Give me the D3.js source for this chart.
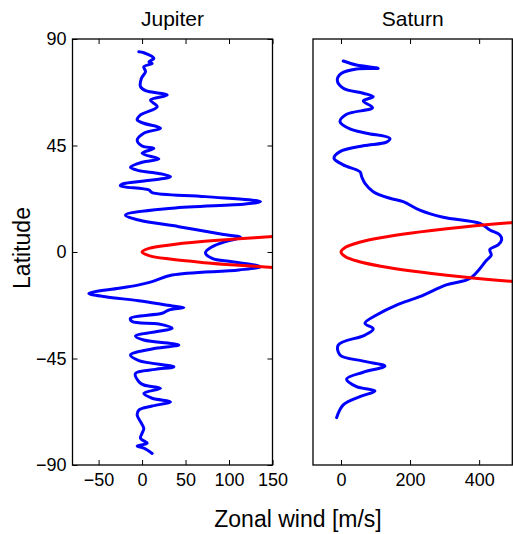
<!DOCTYPE html>
<html><head><meta charset="utf-8">
<script src="https://cdn.jsdelivr.net/npm/d3@7"></script>
<style>
body{margin:0;background:#fff}
text{font-family:"Liberation Sans",Arial,Helvetica,sans-serif;fill:#000}
</style>
</head><body>
<svg id="c" width="513" height="534"></svg>
<script>
// ---- data ----
const latTicks = [90, 45, 0, -45, -90];
const jupTicks = [-50, 0, 50, 100, 150];
const satTicks = [0, 200, 400];
const panelTitles = ["Jupiter", "Saturn"];

const jupLat = [84.6,84.2,81.8,80.4,79.7,78.3,76.2,73.4,69.9,68.2,66.3,64.2,61.4,57.9,55.8,54.4,52.3,50.2,47.3,44.8,43.8,41.7,39.3,37.9,35.8,34.4,33.2,31.8,30.4,28.7,28.0,26.2,25.1,23.4,21.3,20.3,18.5,15.6,13.5,10.7,7.5,6.2,4.4,2.2,-0.3,-2.7,-4.1,-6.2,-7.6,-9.7,-12.5,-13.9,-15.3,-17.5,-18.9,-20.6,-22.8,-23.5,-24.5,-25.9,-28.0,-29.4,-30.4,-32.2,-35.5,-37.2,-39.3,-40.7,-43.5,-45.9,-48.5,-49.6,-51.3,-54.8,-56.2,-57.6,-59.7,-61.8,-63.3,-65.1,-66.8,-68.9,-71.7,-74.5,-76.6,-78.7,-80.8,-82.0,-82.9,-85.1];
const jupU   = [-3.7,2,13.6,7.8,11.6,2,4,-0.7,-1.8,4,28.9,9.7,17.4,-1.8,-5.6,2,21.2,2,-5.6,0,13.6,0,19.3,0,-13.3,-3.7,19.3,32.7,11.6,-22.9,-25,7.8,11.6,72.9,136.2,118.9,34.6,-19.1,-3.7,42.3,92.1,113.2,95.9,80.6,72.9,80.6,103.6,136.2,111.3,34.6,11.6,-3.7,-26.7,-61.2,-42.1,-3.7,34.6,48.1,30.8,23.1,-13.3,-11.4,19.3,34.6,-7.6,2,42.3,15.4,-13.3,-3.7,36.6,15.4,-7.6,-3.7,2,21.2,2,11.6,32.7,11.6,-3.7,-5.6,-1.8,2,0,-1.8,5.9,-5.6,2,11.6];

const satLat = [80.7,79,77.6,77.3,75.5,72.7,69.2,67.1,65.6,63.8,61,58.2,55.1,52,50.2,48,46.4,44.9,42.4,39.6,36.8,33.9,31.8,29,25.5,22.7,21.3,17.7,14.7,12.1,9.3,7.2,5.1,3,1.1,-1.3,-3.4,-11.1,-13.9,-18.9,-22.4,-26.6,-30.1,-32.5,-35.1,-39.3,-43.5,-46.1,-48.2,-50.8,-53.7,-56.9,-58.7,-61.1,-64.6,-70];
const satU   = [6.6,45,107.8,45,1.7,-10.7,6.6,64.5,93.4,64.5,91.3,16.2,-2.9,26,74,141.6,131.8,64.5,-2.9,-20.2,6.6,54.9,60,69.4,93.4,141.6,180,228,295.7,402.6,431,460,465,455,431,435,422,374,305,228,160.7,102.9,69.4,93.4,69.4,-7.8,-2.9,64.5,127.2,64.5,16.2,45,98.3,54.9,6.6,-12.7];

const jupRedLat = [-7.2,-6.6,-5.5,-4.5,-3,-1.5,0,1.5,3,4.5,5.5,6.6,7.2];
const jupRedU   = [184,155,107,72,32,8,0,8,32,72,107,155,184];
const satRedLat = [-13.5,-12,-10,-8,-6,-4,-2,0,2,4,6,8,10,12,13.5];
const satRedU   = [583,461,320,205,115,51,13,0,13,51,115,205,320,461,583];

// ---- layout ----
const svg = d3.select("#c");
const yTop = 39, yBot = 465;
const panels = [
  {x0:72.5, x1:272.5, dom:[-80,150], ticks:jupTicks, lat:jupLat, u:jupU, rlat:jupRedLat, ru:jupRedU, yLabels:true, yTicks:true},
  {x0:313,  x1:512.3, dom:[-81,496], ticks:satTicks, lat:satLat, u:satU, rlat:satRedLat, ru:satRedU, yLabels:false, yTicks:false}
];
const y = d3.scaleLinear().domain([-90,90]).range([yBot, yTop]);
const fmt = d3.format("d");

panels.forEach((p, i) => {
  const x = d3.scaleLinear().domain(p.dom).range([p.x0, p.x1]);
  const g = svg.append("g");
  const cid = "clip" + i;
  svg.append("clipPath").attr("id", cid).append("rect")
    .attr("x", p.x0).attr("y", yTop).attr("width", p.x1 - p.x0).attr("height", yBot - yTop);

  const line = d3.line().x(d => x(d[0])).y(d => y(d[1])).curve(d3.curveCatmullRom.alpha(0.5));
  g.append("path").datum(p.u.map((v, k) => [v, p.lat[k]]))
    .attr("d", line).attr("fill", "none").attr("stroke", "#0000ff")
    .attr("stroke-width", 3).attr("stroke-linejoin", "round").attr("stroke-linecap", "round")
    .attr("clip-path", `url(#${cid})`);
  g.append("path").datum(p.ru.map((v, k) => [v, p.rlat[k]]))
    .attr("d", line).attr("fill", "none").attr("stroke", "#ff0000")
    .attr("stroke-width", 3).attr("clip-path", `url(#${cid})`);

  const ax = (a) => a.call(s => s.select(".domain").remove())
    .call(s => s.selectAll(".tick line").attr("stroke", "#000").attr("stroke-width", 1))
    .call(s => s.selectAll("text").style("font-size", "18px").attr("font-family", null).attr("fill", "#000"));
  g.append("g").attr("transform", `translate(0,${yBot})`)
    .call(d3.axisBottom(x).tickValues(p.ticks).tickSize(-5).tickPadding(8).tickFormat(fmt)).call(ax);
  g.append("g").attr("transform", `translate(0,${yTop})`)
    .call(d3.axisTop(x).tickValues(p.ticks).tickSize(-5).tickFormat("")).call(ax);
  if (p.yTicks) {
    g.append("g").attr("transform", `translate(${p.x0},0)`)
      .call(d3.axisLeft(y).tickValues(latTicks).tickSize(-5).tickPadding(6).tickFormat(p.yLabels ? fmt : "")).call(ax);
    g.append("g").attr("transform", `translate(${p.x1},0)`)
      .call(d3.axisRight(y).tickValues(latTicks).tickSize(-5).tickFormat("")).call(ax);
  }
  g.append("rect").attr("x", p.x0).attr("y", yTop).attr("width", p.x1 - p.x0).attr("height", yBot - yTop)
    .attr("fill", "none").attr("stroke", "#000").attr("stroke-width", 1.3);

  svg.append("text").attr("x", (p.x0 + p.x1) / 2).attr("y", 26)
    .attr("text-anchor", "middle").style("font-size", "21px").text(panelTitles[i]);
});

svg.append("text").attr("x", 298).attr("y", 527).attr("text-anchor", "middle")
  .style("font-size", "23px").text("Zonal wind [m/s]");
svg.append("text").attr("transform", "translate(30,248) rotate(-90)").attr("text-anchor", "middle")
  .style("font-size", "23px").text("Latitude");
</script>
</body></html>
